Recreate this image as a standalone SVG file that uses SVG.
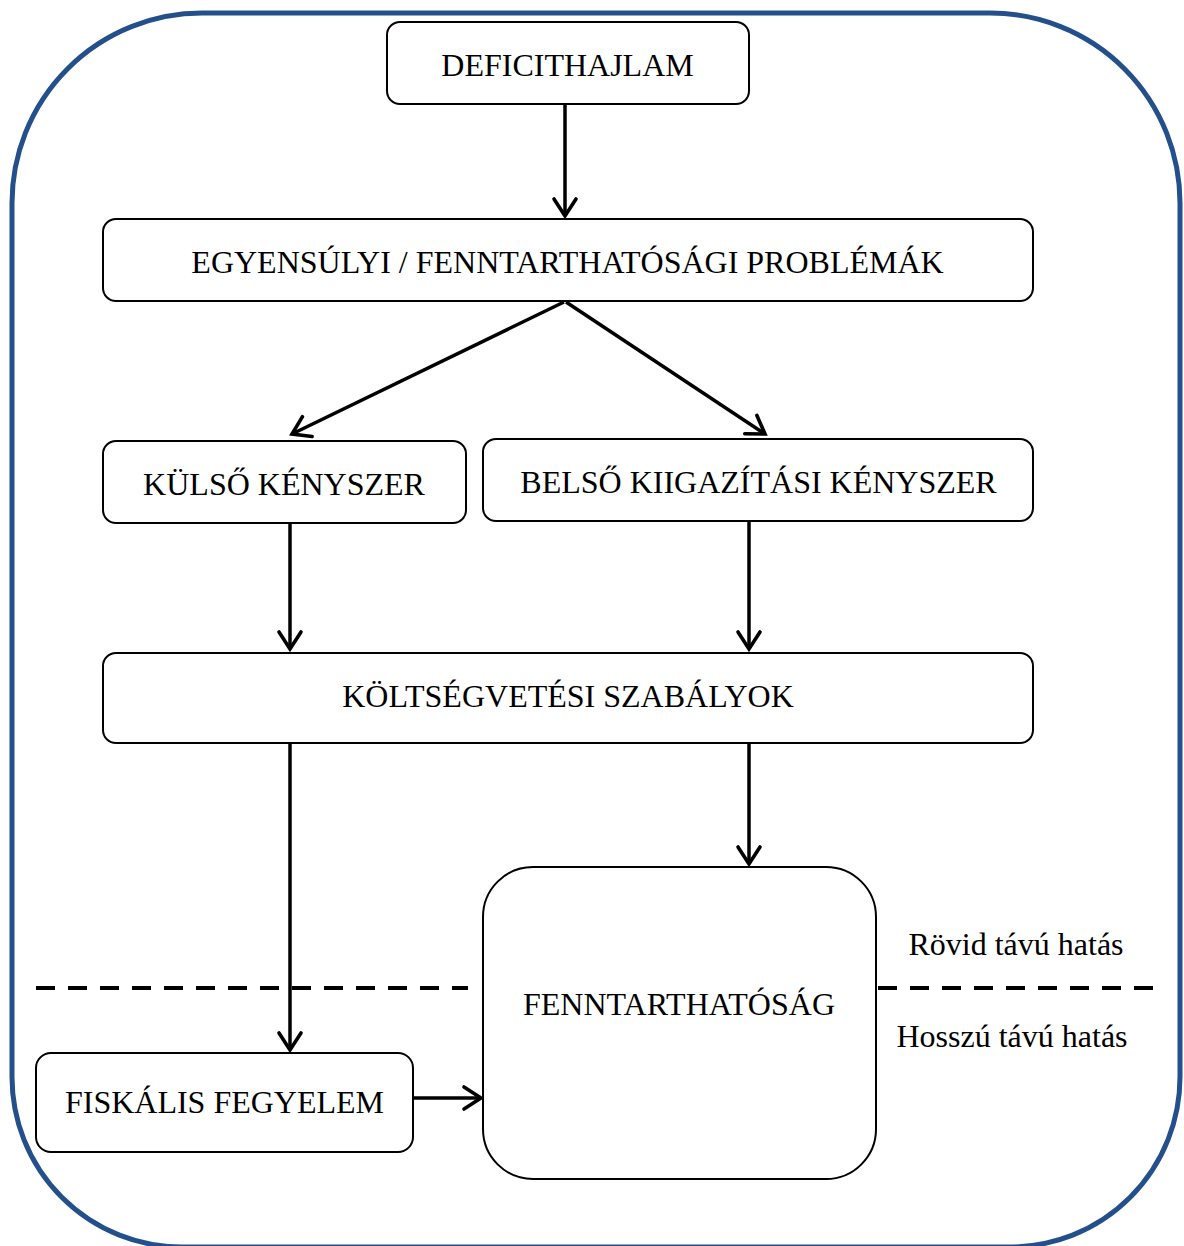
<svg xmlns="http://www.w3.org/2000/svg" width="1184" height="1246" viewBox="0 0 1184 1246">
<defs>
<style>
.box{fill:#fff;stroke:#000;stroke-width:2}
.t{font-family:"Liberation Serif","Times New Roman",serif;font-size:32px;fill:#000;text-anchor:middle}
.c{stroke:#000;stroke-width:3.5;fill:none;marker-end:url(#ah)}
.dash{stroke:#000;stroke-width:4;stroke-dasharray:19 13;fill:none}
</style>
<marker id="ah" markerUnits="userSpaceOnUse" markerWidth="40" markerHeight="40" viewBox="-20 -20 40 40" refX="0" refY="0" orient="auto">
<path d="M-17,-11 L0,0 L-17,11" fill="none" stroke="#000" stroke-width="3.6" stroke-linecap="round" stroke-linejoin="miter"/>
</marker>
</defs>
<rect width="1184" height="1246" fill="#fff"/>
<path id="frame" d="M12,1077 L12,203 A190,190 0 0 1 202,13 L990,13 A190,190 0 0 1 1180,203 L1180,1077 A170,170 0 0 1 1010,1247 L182,1247 A170,170 0 0 1 12,1077 Z" fill="none" stroke="#23508a" stroke-width="5"/>
<g id="dividers">
<line class="dash" x1="36" y1="988" x2="468" y2="988"/>
<line class="dash" x1="878" y1="988" x2="1160" y2="988"/>
</g>
<g id="connectors">
<line class="c" x1="565" y1="104" x2="565" y2="216"/>
<line class="c" x1="564" y1="302" x2="292" y2="434"/>
<line class="c" x1="566" y1="302" x2="765" y2="434"/>
<line class="c" x1="290" y1="523" x2="290" y2="649"/>
<line class="c" x1="749" y1="521" x2="749" y2="649"/>
<line class="c" x1="290" y1="743" x2="290" y2="1050"/>
<line class="c" x1="749" y1="743" x2="749" y2="864"/>
<line class="c" x1="413" y1="1098" x2="481" y2="1098"/>
</g>
<g id="n-deficit"><rect class="box" x="387" y="22" width="362" height="82" rx="13"/><text class="t" x="567.5" y="76">DEFICITHAJLAM</text></g>
<g id="n-egyensuly"><rect class="box" x="103" y="219" width="930" height="82" rx="13"/><text class="t" x="567.5" y="273">EGYENSÚLYI / FENNTARTHATÓSÁGI PROBLÉMÁK</text></g>
<g id="n-kulso"><rect class="box" x="103" y="441" width="363" height="82" rx="13"/><text class="t" x="284" y="495">KÜLSŐ KÉNYSZER</text></g>
<g id="n-belso"><rect class="box" x="483" y="439" width="550" height="82" rx="13"/><text class="t" x="758.5" y="493">BELSŐ KIIGAZÍTÁSI KÉNYSZER</text></g>
<g id="n-koltseg"><rect class="box" x="103" y="653" width="930" height="90" rx="13"/><text class="t" x="568" y="707">KÖLTSÉGVETÉSI SZABÁLYOK</text></g>
<g id="n-fennt"><rect class="box" x="483" y="867" width="393" height="312" rx="50"/><text class="t" x="679" y="1015">FENNTARTHATÓSÁG</text></g>
<g id="n-fiskalis"><rect class="box" x="36" y="1053" width="377" height="99" rx="15"/><text class="t" x="224.5" y="1113">FISKÁLIS FEGYELEM</text></g>
<g id="labels">
<text class="t" x="1016" y="955">Rövid távú hatás</text>
<text class="t" x="1012" y="1047">Hosszú távú hatás</text>
</g>
</svg>
